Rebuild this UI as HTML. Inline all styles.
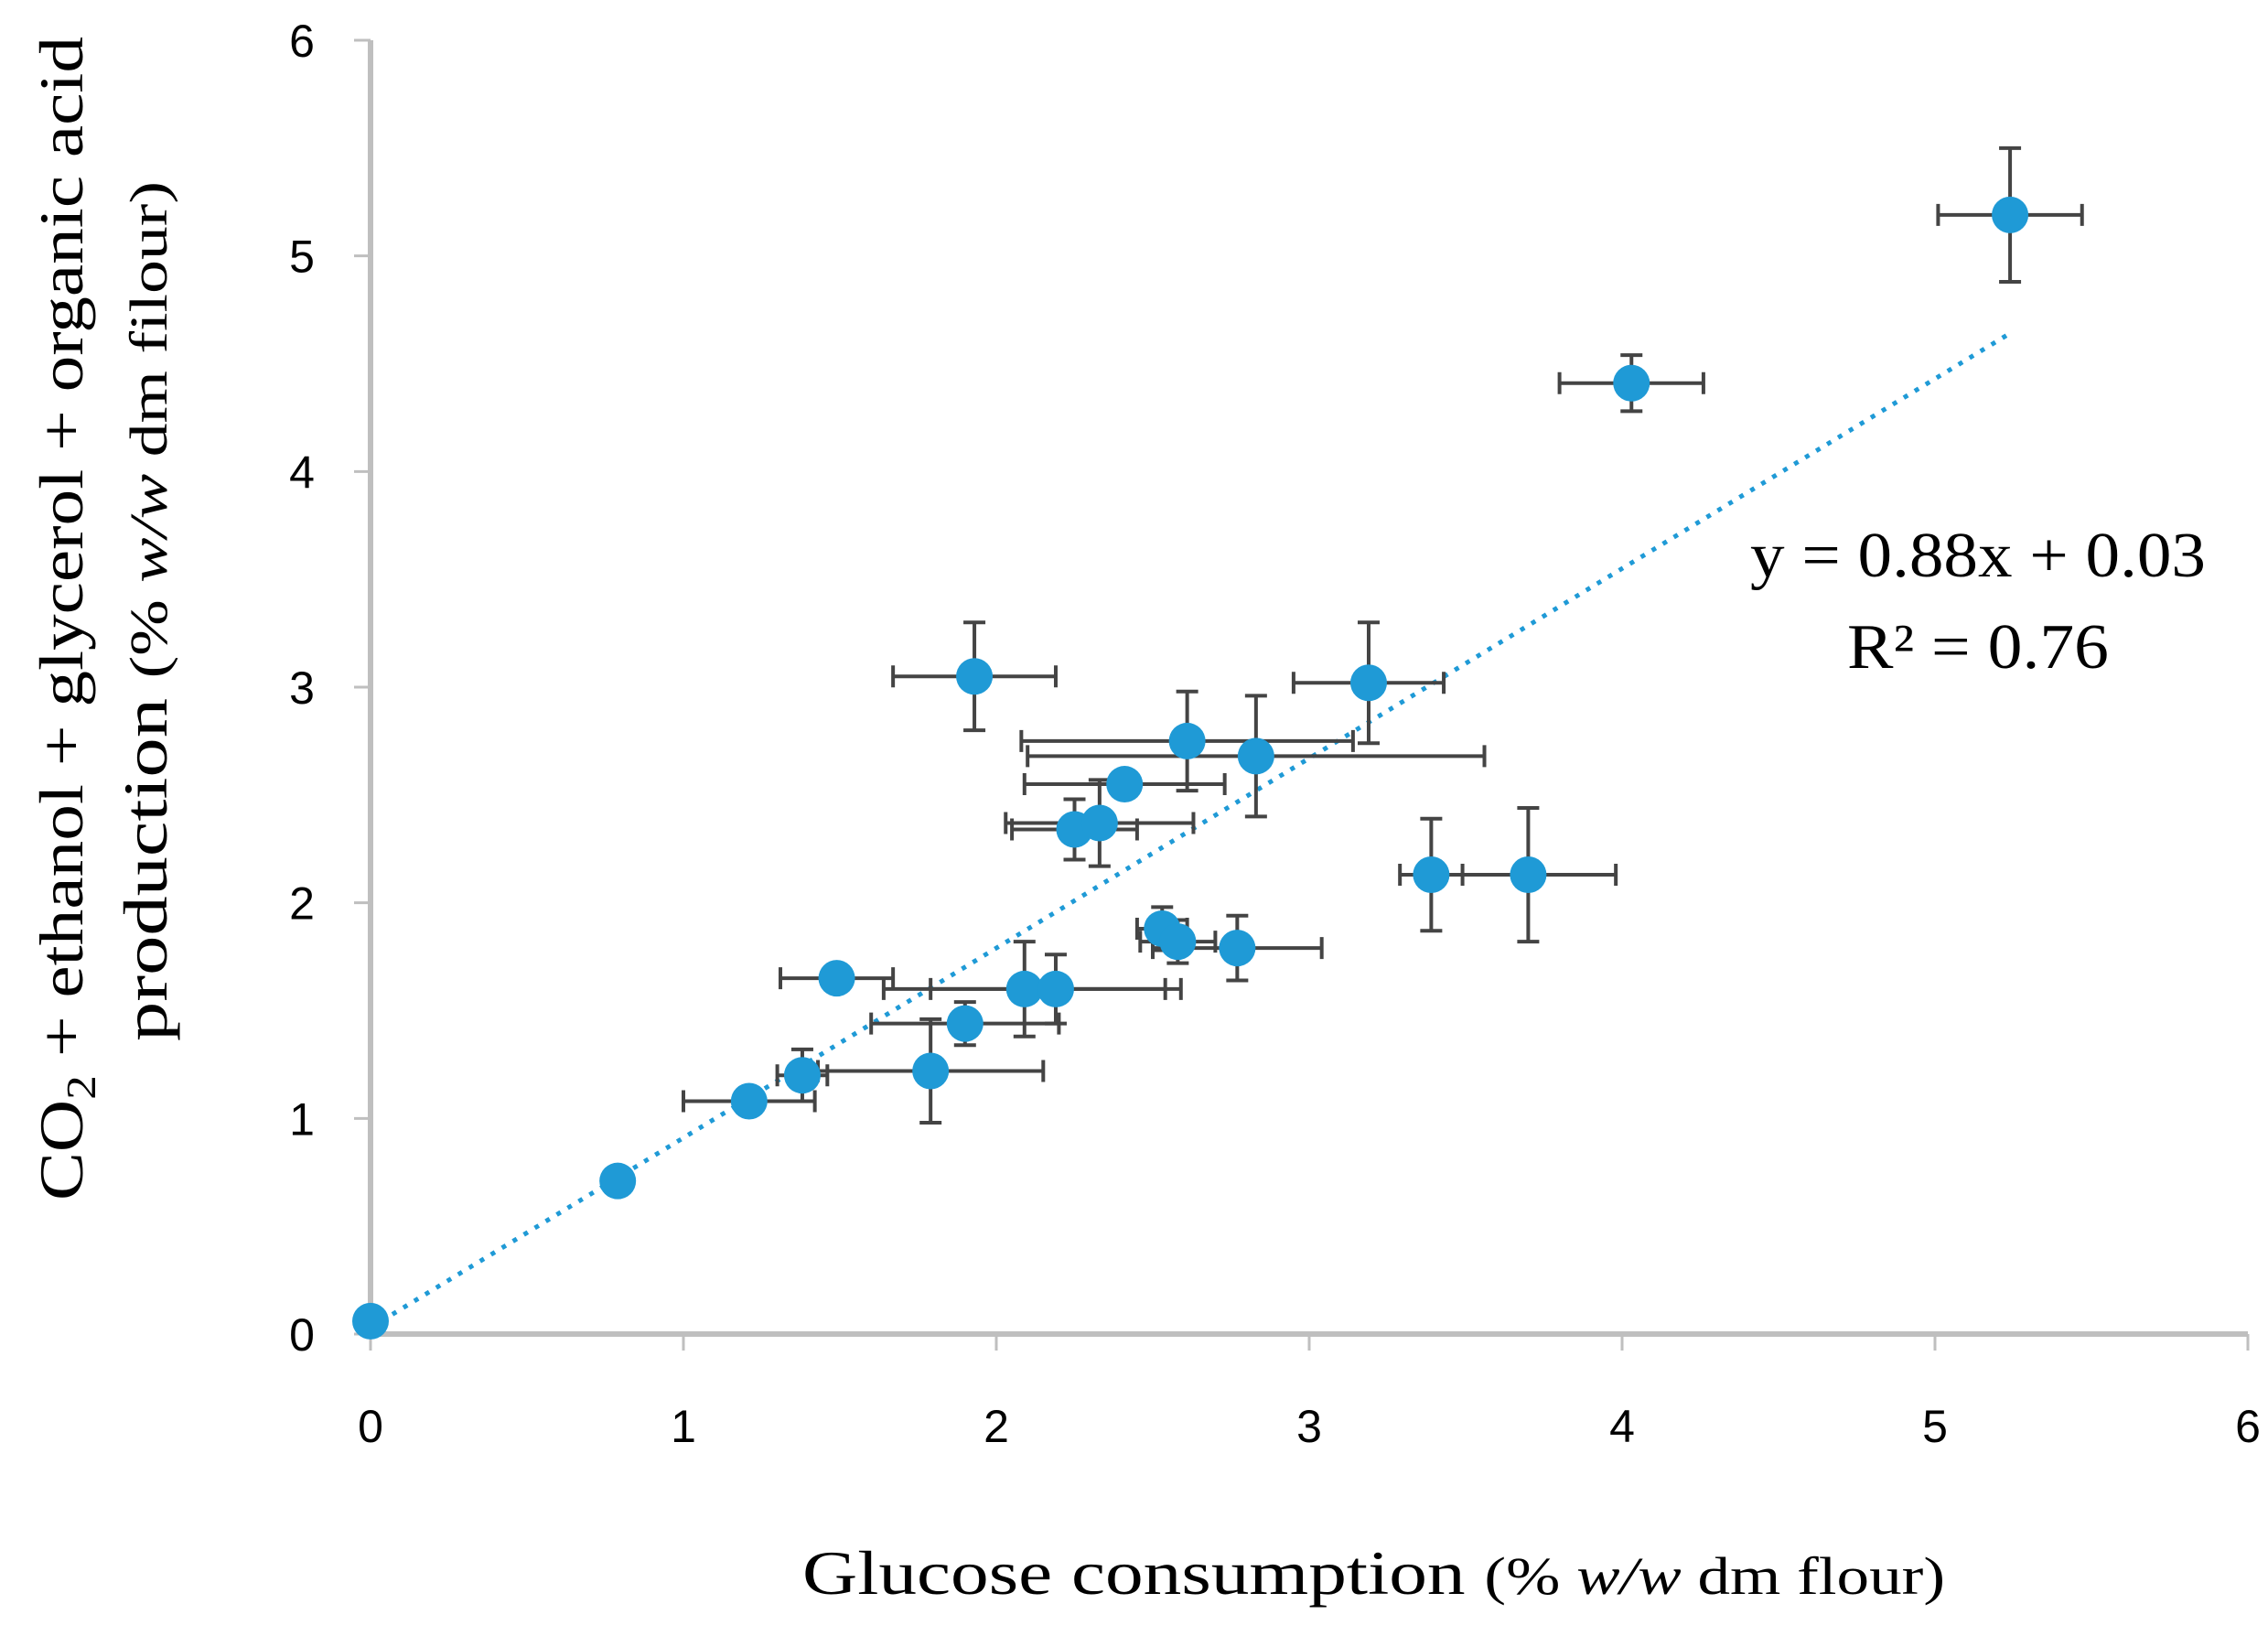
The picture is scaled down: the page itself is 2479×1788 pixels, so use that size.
<!DOCTYPE html>
<html><head><meta charset="utf-8"><style>html,body{margin:0;padding:0;background:#fff}</style></head>
<body>
<svg id="chart" width="2479" height="1783" xmlns="http://www.w3.org/2000/svg">
<g id="grid"></g>
<g id="trend"></g>
<g id="errs"></g>
<g id="pts"></g>
<g id="labels"></g>
<text x="877" y="1742" textLength="1249" lengthAdjust="spacingAndGlyphs" font-family="Liberation Serif, serif" font-size="68" fill="#000">Glucose consumption <tspan font-size="58">(% <tspan font-style="italic">w/w</tspan> dm flour)</tspan></text>
<text transform="translate(90,1312) rotate(-90)" textLength="1272" lengthAdjust="spacingAndGlyphs" font-family="Liberation Serif, serif" font-size="68" fill="#000">CO<tspan font-size="46" dy="14">2</tspan><tspan dy="-14"> + ethanol + glycerol + organic acid</tspan></text>
<text transform="translate(182,1138) rotate(-90)" textLength="940" lengthAdjust="spacingAndGlyphs" font-family="Liberation Serif, serif" font-size="68" fill="#000">production <tspan font-size="58">(% <tspan font-style="italic">w/w</tspan> dm filour)</tspan></text>
<text x="1913" y="630" textLength="498" lengthAdjust="spacingAndGlyphs" font-family="Liberation Serif, serif" font-size="70" fill="#000">y = 0.88x + 0.03</text>
<text x="2019" y="730" textLength="286" lengthAdjust="spacingAndGlyphs" font-family="Liberation Serif, serif" font-size="70" fill="#000">R² = 0.76</text>
</svg>
<script>
const xVals=[0,0.79,1.21,1.38,1.79,1.49,1.9,2.09,2.19,1.93,2.25,2.33,2.41,2.61,2.83,2.53,2.58,2.77,3.19,3.39,3.7,4.03,5.24];
const yVals=[0.06,0.71,1.08,1.2,1.22,1.65,1.44,1.6,1.6,3.05,2.34,2.37,2.55,2.75,2.68,1.88,1.82,1.79,3.02,2.13,2.13,4.41,5.19];
const xErr=[0,0,0.21,0.08,0.36,0.18,0.3,0.45,0.4,0.26,0.2,0.3,0.32,0.53,0.73,0.08,0.12,0.27,0.24,0.1,0.28,0.23,0.23];
const yErr=[0,0,0.04,0.12,0.24,0,0.1,0.22,0.16,0.25,0.14,0.2,0,0.23,0.28,0.1,0.1,0.15,0.28,0.26,0.31,0.13,0.31];
const xTicks=[0,1,2,3,4,5,6];
const yTicks=[0,1,2,3,4,5,6];
const slope=0.88, intercept=0.03;
const NS='http://www.w3.org/2000/svg';
const X0=405,X1=2457,Y0=1458,Y1=44;
const sx=v=>X0+(X1-X0)*v/6, sy=v=>Y0-(Y0-Y1)*v/6;
function mk(tag,attrs,parent){const e=document.createElementNS(NS,tag);for(const k in attrs)e.setAttribute(k,attrs[k]);document.getElementById(parent).appendChild(e);return e;}
let e;
e=mk('line',{x1:X0,y1:Y0,x2:X1,y2:Y0,stroke:'#bfbfbf','stroke-width':6},'grid');


e=mk('line',{x1:X0,y1:Y0,x2:X0,y2:Y1,stroke:'#bfbfbf','stroke-width':6},'grid');


xTicks.forEach(t=>{
 e=mk('line',{x1:sx(t),y1:Y0,x2:sx(t),y2:Y0+18,stroke:'#bfbfbf','stroke-width':3},'grid');
 
 
 e=mk('text',{x:sx(t),y:1576,'text-anchor':'middle','font-family':'Liberation Sans, sans-serif','font-size':50,fill:'#000'},'labels');e.textContent=t;
 
 
});
yTicks.forEach(t=>{
 e=mk('line',{x1:X0-18,y1:sy(t),x2:X0,y2:sy(t),stroke:'#bfbfbf','stroke-width':3},'grid');
 
 
 e=mk('text',{x:330,y:sy(t)+18,'text-anchor':'middle','font-family':'Liberation Sans, sans-serif','font-size':50,fill:'#000'},'labels');e.textContent=t;
 
 
});
const xmax=Math.max(...xVals);
e=mk('line',{x1:sx(0),y1:sy(intercept),x2:sx(xmax),y2:sy(slope*xmax+intercept),stroke:'#1f9ad6','stroke-width':5,'stroke-dasharray':'5 9'},'trend');


xVals.forEach((x,i)=>{
 const y=yVals[i],c='#444',w=4,cap=12;
 if(xErr[i]>0){
  e=mk('path',{d:`M${sx(x-xErr[i])},${sy(y)}H${sx(x+xErr[i])}M${sx(x-xErr[i])},${sy(y)-cap}v${2*cap}M${sx(x+xErr[i])},${sy(y)-cap}v${2*cap}`,stroke:c,'stroke-width':w,fill:'none'},'errs');
  
  
 }
 if(yErr[i]>0){
  e=mk('path',{d:`M${sx(x)},${sy(y-yErr[i])}V${sy(y+yErr[i])}M${sx(x)-cap},${sy(y-yErr[i])}h${2*cap}M${sx(x)-cap},${sy(y+yErr[i])}h${2*cap}`,stroke:c,'stroke-width':w,fill:'none'},'errs');
  
  
 }
 e=mk('circle',{cx:sx(x),cy:sy(y),r:20,fill:'#1f9ad6'},'pts');
 
 
});
</script>
</body></html>
